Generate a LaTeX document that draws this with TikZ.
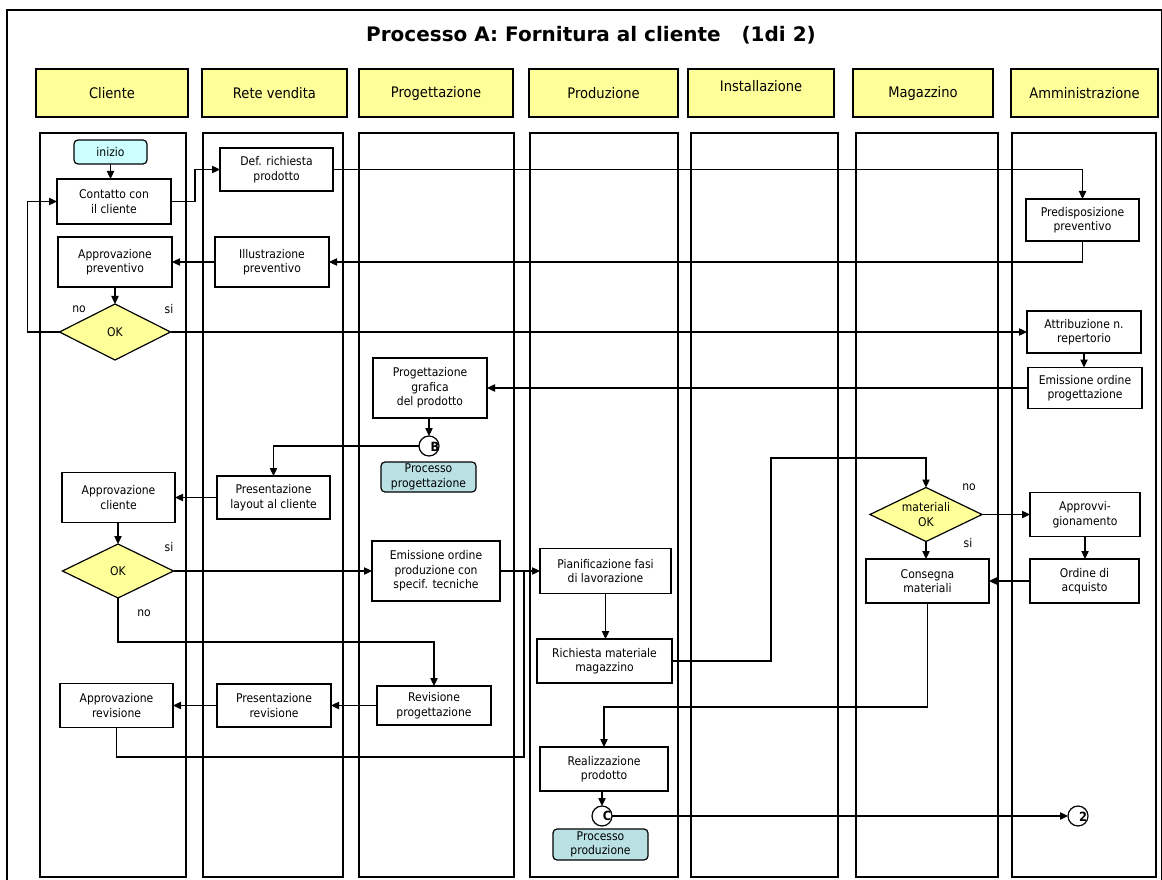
\documentclass[tikz,border=0pt]{standalone}
\usepackage{fontspec}
\setmainfont{DejaVu Sans}[FakeStretch=0.9]
\newfontfamily\titlefont{DejaVu Sans}
\usetikzlibrary{arrows.meta,shapes.geometric}
\definecolor{yel}{HTML}{FFFF99}
\definecolor{cyanl}{HTML}{CCFFFF}
\definecolor{teall}{HTML}{B9E0E3}
\begin{document}
\begin{tikzpicture}[x=0.75pt,y=-0.75pt,
  every node/.style={inner sep=0pt, outer sep=0pt},
  sz/.style 2 args={minimum width=#1*0.75pt, minimum height=#2*0.75pt},
  txt/.style={font=\fontsize{9}{10.9}\selectfont, align=center},
  box/.style={draw, fill=white, line width=0.9pt, txt},
  hdr/.style={draw, fill=yel, line width=0.9pt, font=\fontsize{10.9}{13}\selectfont},
  dia/.style={draw, fill=yel, diamond, aspect=2, line width=0.9pt, txt},
  term/.style={draw, rounded corners=3pt, line width=0.9pt, txt},
  conn/.style={draw, circle, fill=white, minimum size=15pt, line width=0.9pt},
  clab/.style={font=\fontsize{9.5}{10}\selectfont\bfseries},
  lab/.style={txt},
  lane/.style={draw, line width=1pt},
  arr/.style={line width=0.9pt, -{Triangle[length=6pt,width=5.5pt]}},
  ln/.style={line width=0.9pt},
]
\useasboundingbox (0,0) rectangle (1162,880);
% outer frame
\draw[line width=1.5pt] (7,10) rectangle (1161.5,884);
% title
\node[font=\titlefont\bfseries\fontsize{15}{18}\selectfont] (title) at (591,35) {Processo A: Fornitura al cliente\ \ \ (1di 2)};
% lanes
\foreach \a/\b in {40/186, 203/343, 359/514, 530/678, 691/838, 856/998, 1012/1156}
  \draw[lane] (\a,133) rectangle (\b,877);
% headers
\node[hdr, sz={152}{48}] (hCli) at (112,93) {Cliente};
\node[hdr, sz={145}{48}] (hRet) at (274.5,93) {Rete vendita};
\node[hdr, sz={154}{48}] (hPro) at (436,93) {Progettazione};
\node[hdr, sz={149}{48}] (hPrd) at (603.5,93) {Produzione};
\node[hdr, sz={146}{48}] (hIns) at (761,93) {};
\node[font=\fontsize{10.9}{13}\selectfont] (hInsT) at (761,86) {Installazione};
\node[hdr, sz={140}{48}] (hMag) at (923,93) {Magazzino};
\node[hdr, sz={147}{48}] (hAmm) at (1084.5,93) {Amministrazione};
% nodes
\node[term, fill=cyanl, sz={73}{24}] (inizio) at (110.5,152) {inizio};
\node[box, sz={114}{45}] (contatto) at (114,201.5) {Contatto con\\il cliente};
\node[box, sz={113}{43}] (defrich) at (276.5,169.5) {Def. richiesta\\prodotto};
\node[box, sz={113}{42}] (predisp) at (1082.5,220) {Predisposizione\\preventivo};
\node[box, sz={114}{50}] (illustr) at (272,262) {Illustrazione\\preventivo};
\node[box, sz={114}{50}] (approvprev) at (115,262) {Approvazione\\preventivo};
\node[dia, sz={111}{56}] (ok1) at (115,332) {OK};
\node[box, sz={114}{42}] (attrib) at (1084,332) {Attribuzione n.\\repertorio};
\node[box, sz={114}{41}] (emissprog) at (1085,388) {Emissione ordine\\progettazione};
\node[box, sz={114}{60}] (proggraf) at (430,388) {Progettazione\\grafica\\del prodotto};
\node[conn] (circB) at (429,446) {};
\node[clab] (circBt) at (435,447) {B};
\node[term, fill=teall, sz={95}{30}] (procprog) at (428.5,477) {Processo\\progettazione};
\node[box, sz={113}{43}] (presl) at (273.5,497.5) {Presentazione\\layout al cliente};
\node[box, sz={113}{50}] (approvcli) at (118.5,497.5) {Approvazione\\cliente};
\node[dia, sz={111}{54}] (ok2) at (118,571) {OK};
\node[box, sz={128}{60}] (emissprod) at (436,571) {Emissione ordine\\produzione con\\specif. tecniche};
\node[box, sz={131}{45}] (pianif) at (605.5,571) {Pianificazione fasi\\di lavorazione};
\node[box, sz={135}{44}] (richiesta) at (604.5,661) {Richiesta materiale\\magazzino};
\node[box, sz={114}{39}] (revprog) at (434,705.5) {Revisione\\progettazione};
\node[box, sz={114}{43}] (presrev) at (274,705.5) {Presentazione\\revisione};
\node[box, sz={113}{44}] (approvrev) at (116.5,705.5) {Approvazione\\revisione};
\node[dia, sz={112}{54}] (matok) at (926,514.5) {materiali\\OK};
\node[box, sz={110}{44}] (approvv) at (1085,514.5) {Approvvi-\\gionamento};
\node[box, sz={109}{44}] (ordine) at (1084.5,581) {Ordine di\\acquisto};
\node[box, sz={123}{44}] (consegna) at (927.5,581) {Consegna\\materiali};
\node[box, sz={128}{44}] (realiz) at (604,769) {Realizzazione\\prodotto};
\node[conn] (circC) at (602,816) {};
\node[clab] (circCt) at (607,816) {C};
\node[term, fill=teall, sz={95}{31}] (procprod) at (600.5,844.5) {Processo\\produzione};
\node[conn] (circ2) at (1078,816) {};
\node[clab] (circ2t) at (1083,817) {2};
% labels
\node[lab] (no1) at (79,309) {no};
\node[lab] (si1) at (169,309) {si};
\node[lab] (si2) at (169,547) {si};
\node[lab] (no2) at (144,613) {no};
\node[lab] (no3) at (969,487) {no};
\node[lab] (si3) at (968,543) {si};
% connectors
\draw[arr] (inizio.south) -- (inizio.south |- contatto.north);
\draw[arr] (contatto.east) -- ++(24,0) |- (defrich.west);
\draw[arr] (defrich.east) -| (predisp.north);
\draw[arr] (predisp.south) |- (illustr.east);
\draw[arr] (illustr.west) -- (approvprev.east);
\draw[arr] (approvprev.south) -- (ok1.north);
\draw[arr] (ok1.west) -- ++(-32,0) |- (contatto.west);
\draw[arr] (ok1.east) -- (attrib.west);
\draw[arr] (attrib.south) -- (attrib.south |- emissprog.north);
\draw[arr] (emissprog.west) -- (proggraf.east);
\draw[arr] (proggraf.south -| circB.north) -- (circB.north);
\draw[arr] (circB.west) -| (presl.north);
\draw[arr] (presl.west) -- (presl.west -| approvcli.east);
\draw[arr] (approvcli.south -| ok2.north) -- (ok2.north);
\draw[arr] (ok2.east) -- (emissprod.west);
\draw[arr] (emissprod.east) -- (pianif.west);
\draw[arr] (ok2.south) -- ++(0,44) -| (revprog.north);
\draw[arr] (revprog.west) -- (presrev.east);
\draw[arr] (presrev.west) -- (approvrev.east);
\coordinate (ret) at (524,757);
\draw[ln] (approvrev.south) |- (ret) -- (ret |- pianif.west);
\draw[arr] (pianif.south) -- (pianif.south |- richiesta.north);
\coordinate (r1) at (771,458);
\draw[arr] (richiesta.east) -| (r1) -| (matok.north);
\draw[arr] (matok.east) -- (approvv.west);
\draw[arr] (approvv.south) -- (approvv.south |- ordine.north);
\draw[arr] (ordine.west) -- (consegna.east);
\draw[arr] (matok.south) -- (matok.south |- consegna.north);
\draw[arr] (consegna.south) -- ++(0,104) -| (realiz.north);
\draw[arr] (realiz.south -| circC.north) -- (circC.north);
\draw[arr] (circC.east) -- (circ2.west);
\end{tikzpicture}
\end{document}
